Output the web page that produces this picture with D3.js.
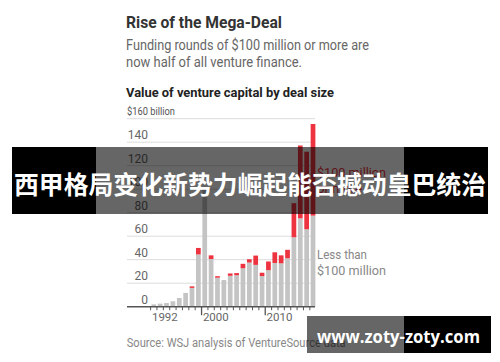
<!DOCTYPE html>
<html>
<head>
<meta charset="utf-8">
<script src="https://cdn.jsdelivr.net/npm/d3@7"></script>
<style>
  body { margin: 0; background: #fff; }
  svg { display: block; }
</style>
</head>
<body>
<div id="chart"></div>
<script>
// Value of venture capital by deal size, $ billion
const years = [1992, 1993, 1994, 1995, 1996, 1997, 1998, 1999, 2000, 2001, 2002, 2003, 2004,
               2005, 2006, 2007, 2008, 2009, 2010, 2011, 2012, 2013, 2014, 2015, 2016, 2017];
const lessThan100 = [2.0, 2.6, 3.1, 4.6, 7.4, 11.7, 16.0, 44.5, 102, 40.6, 24.7, 22.7, 26.3,
                     26.8, 32.7, 37.6, 35.6, 26.1, 31.1, 37.2, 36.9, 41.2, 59.1, 75.2, 65.9, 77.5];
const over100 = [0, 0, 0, 0, 0, 0, 1.3, 5.5, 0, 3.1, 1.3, 0, 2.0,
                 1.8, 3.8, 2.8, 7.9, 2.8, 7.4, 9.1, 6.8, 7.2, 29, 62, 66, 78];
const yTicks = [0, 20, 40, 60, 80, 100, 120, 140, 160];
const yearLabels = [1992, 2000, 2010];
const majorTicks = [2000, 2010];

const width = 500, height = 362;
const GRAY = '#c4c4c4', RED = '#ee3340';
const FONT = 'Roboto, "Noto Sans", sans-serif';

const svg = d3.select('#chart').append('svg')
    .attr('width', width)
    .attr('height', height);

svg.append('rect').attr('width', width).attr('height', height).attr('fill', '#fff');

// squeeze a text to a measured width from the picture
function fit(sel, w) {
    const len = sel.node().getComputedTextLength();
    if (Math.abs(len - w) > 1) sel.attr('textLength', w).attr('lengthAdjust', 'spacingAndGlyphs');
    return sel;
}

function text(x, y, str, size, color, weight, w) {
    const t = svg.append('text')
        .attr('x', x).attr('y', y)
        .attr('font-family', FONT)
        .attr('font-size', size)
        .attr('font-weight', weight || 400)
        .attr('fill', color)
        .text(str);
    if (w) fit(t, w);
    return t;
}

// Headline block
text(126, 28, 'Rise of the Mega-Deal', 16, '#333', 700, 156);
text(126, 50, 'Funding rounds of $100 million or more are', 14, '#666', 400, 243);
text(126, 67, 'now half of all venture finance.', 14, '#666', 400, 176);
text(126, 97, 'Value of venture capital by deal size', 13, '#222', 700, 208);

// Scales
const x = d3.scaleBand()
    .domain(years)
    .range([151.3, 315.5])
    .paddingInner(0.26)
    .paddingOuter(0.02);

const y = d3.scaleLinear()
    .domain([0, 160])
    .range([306.7, 118.7]);

// Gridlines + labels
const grid = svg.append('g');
grid.selectAll('line')
    .data(yTicks.filter(d => d > 0))
    .enter().append('line')
    .attr('x1', 127).attr('x2', 315)
    .attr('y1', d => y(d)).attr('y2', d => y(d))
    .attr('stroke', '#dcdcdc')
    .attr('stroke-width', 1);

grid.selectAll('text')
    .data(yTicks.filter(d => d < 160))
    .enter().append('text')
    .attr('x', 148)
    .attr('y', d => y(d) - 3)
    .attr('text-anchor', 'end')
    .attr('font-family', FONT)
    .attr('font-size', 12)
    .attr('fill', '#666')
    .text(d => d);

text(127, y(160) - 3.5, '$160 billion', 11, '#555', 400, 48);

// Stacked bars
const stacked = years.map((yr, i) => ({ year: yr, low: lessThan100[i], high: over100[i] }));

const bars = svg.append('g');
bars.selectAll('rect.low')
    .data(stacked)
    .enter().append('rect')
    .attr('class', 'low')
    .attr('x', d => x(d.year))
    .attr('width', x.bandwidth())
    .attr('y', d => y(d.low))
    .attr('height', d => y(0) - y(d.low))
    .attr('fill', GRAY);

bars.selectAll('rect.high')
    .data(stacked.filter(d => d.high > 0))
    .enter().append('rect')
    .attr('class', 'high')
    .attr('x', d => x(d.year))
    .attr('width', x.bandwidth())
    .attr('y', d => y(d.low + d.high))
    .attr('height', d => y(d.low) - y(d.low + d.high))
    .attr('fill', RED);

// Baseline and ticks
const gap = x.step() - x.bandwidth();
svg.append('line')
    .attr('x1', 127).attr('x2', 315)
    .attr('y1', y(0)).attr('y2', y(0))
    .attr('stroke', '#555')
    .attr('stroke-width', 1.5);

svg.append('g').selectAll('line')
    .data(years)
    .enter().append('line')
    .attr('x1', d => x(d) - gap / 2).attr('x2', d => x(d) - gap / 2)
    .attr('y1', y(0))
    .attr('y2', d => y(0) + (majorTicks.includes(d) ? 8.5 : 3.5))
    .attr('stroke', '#555')
    .attr('stroke-width', d => majorTicks.includes(d) ? 1.3 : 1);

svg.append('g').selectAll('text')
    .data(yearLabels)
    .enter().append('text')
    .attr('x', d => x(d) + 0.5)
    .attr('y', 321)
    .attr('font-family', FONT)
    .attr('font-size', 11.5)
    .attr('fill', '#666')
    .text(d => d);

// Series labels
text(317, 177, '$100 million', 13, RED, 400, 69);
text(317, 193, 'or more', 13, RED, 400);
text(317, 259, 'Less than', 13, '#888', 400, 50);
text(317, 275, '$100 million', 13, '#888', 400, 69);

text(126.7, 347, 'Source: WSJ analysis of VentureSource data', 12, '#888', 400, 219);

// Overlay banners (part of the picture)
function banner(x0, y0, w, h) {
    const g = svg.append('g');
    const inner0 = Math.max(x0, 96), inner1 = Math.min(x0 + w, 404);
    if (inner0 > x0) g.append('rect').attr('x', x0).attr('y', y0).attr('width', inner0 - x0).attr('height', h).attr('fill', '#000');
    g.append('rect').attr('x', inner0).attr('y', y0).attr('width', inner1 - inner0).attr('height', h).attr('fill', 'rgba(0,0,0,0.6)');
    if (x0 + w > inner1) g.append('rect').attr('x', inner1).attr('y', y0).attr('width', x0 + w - inner1).attr('height', h).attr('fill', '#000');
    return g;
}

banner(12, 147, 476, 67);
fit(svg.append('text')
    .attr('x', 14).attr('y', 193.5)
    .attr('font-family', '"Noto Sans CJK SC", sans-serif')
    .attr('font-size', 25)
    .attr('font-weight', 700)
    .attr('fill', '#fff')
    .text('西甲格局变化新势力崛起能否撼动皇巴统治'), 472);

banner(307, 316, 184, 37);
fit(svg.append('text')
    .attr('x', 317).attr('y', 343)
    .attr('font-family', '"Open Sans", "Noto Sans", sans-serif')
    .attr('font-size', 18)
    .attr('font-weight', 700)
    .attr('fill', '#fff')
    .text('www.zoty-zoty.com'), 163);
</script>
</body>
</html>
